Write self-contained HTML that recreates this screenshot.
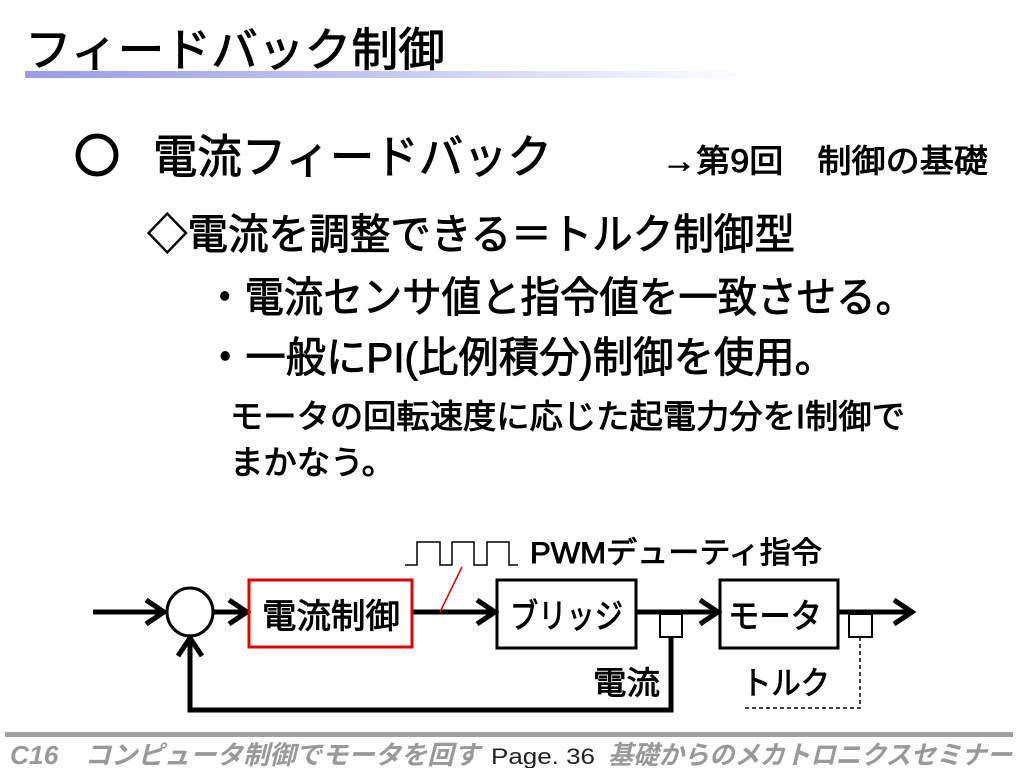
<!DOCTYPE html>
<html><head><meta charset="utf-8"><style>
html,body{margin:0;padding:0;background:#fff;}
svg{display:block;}
text{font-family:"Liberation Sans","Noto Sans CJK JP",sans-serif;}
.b{stroke:#000;stroke-width:0.9;}
</style></head><body>
<svg width="1024" height="768" viewBox="0 0 1024 768" xmlns="http://www.w3.org/2000/svg">
<defs>
<linearGradient id="g" x1="0" x2="1" y1="0" y2="0">
<stop offset="0" stop-color="#9a9ae8"/><stop offset="0.5" stop-color="#c8c8f2"/><stop offset="1" stop-color="#ffffff"/>
</linearGradient>
</defs>
<text class="b" x="25" y="66" font-size="46" textLength="420" lengthAdjust="spacingAndGlyphs">フィードバック制御</text>
<rect x="25" y="71" width="725" height="7" fill="url(#g)"/>

<circle cx="97" cy="155" r="19" fill="none" stroke="#000" stroke-width="5"/>
<text class="b" x="153" y="173" font-size="46" textLength="399" lengthAdjust="spacingAndGlyphs">電流フィードバック</text>
<text class="b" x="662" y="172" font-size="32" textLength="326" lengthAdjust="spacingAndGlyphs">→第9回　制御の基礎</text>
<text class="b" x="147" y="249" font-size="42" textLength="648" lengthAdjust="spacingAndGlyphs">◇電流を調整できる＝トルク制御型</text>
<text class="b" x="205" y="312" font-size="42" textLength="710" lengthAdjust="spacingAndGlyphs">・電流センサ値と指令値を一致させる。</text>
<text class="b" x="205" y="372" font-size="42" textLength="630" lengthAdjust="spacingAndGlyphs">・一般にPI(比例積分)制御を使用。</text>
<text class="b" x="230" y="428" font-size="33" textLength="675" lengthAdjust="spacingAndGlyphs">モータの回転速度に応じた起電力分をI制御で</text>
<text class="b" x="230" y="474" font-size="33" textLength="165" lengthAdjust="spacingAndGlyphs">まかなう。</text>

<!-- diagram -->
<g stroke="#000" stroke-width="5" fill="none" stroke-linejoin="miter">
<line x1="93" y1="612" x2="162" y2="612"/>
<polyline points="146,600 164,612 146,624"/>
<ellipse cx="190" cy="612" rx="23" ry="24" stroke-width="3"/>
<line x1="213" y1="612" x2="245" y2="612"/>
<polyline points="229,600 247,612 229,624"/>
<line x1="413" y1="612" x2="493" y2="612"/>
<polyline points="477,600 495,612 477,624"/>
<rect x="497" y="580" width="139" height="68" stroke-width="3"/>
<line x1="636" y1="612" x2="716" y2="612"/>
<polyline points="700,600 718,612 700,624"/>
<rect x="720" y="580" width="118" height="68" stroke-width="3"/>
<line x1="838" y1="612" x2="910" y2="612"/>
<polyline points="894,600 912,612 894,624"/>
<polyline points="671,637 671,710 190,710 190,640"/>
<polyline points="178,656 190,638 202,656"/>
</g>
<rect x="660" y="614" width="22" height="23" fill="#fff" stroke="#000" stroke-width="2"/>
<rect x="849" y="614" width="23" height="23" fill="#fff" stroke="#000" stroke-width="2"/>
<polyline points="860,637 860,708 745,708" fill="none" stroke="#000" stroke-width="1.5" stroke-dasharray="4,3"/>
<rect x="249" y="580" width="163" height="67" fill="none" stroke="#e00000" stroke-width="3"/>
<line x1="440" y1="612" x2="462" y2="567" stroke="#e00000" stroke-width="1.5"/>
<polyline points="405,565 417,565 417,542 440,542 440,565 452,565 452,542 474,542 474,565 487,565 487,542 509,542 509,565 518,565" fill="none" stroke="#000" stroke-width="1.5"/>
<text class="b" x="262" y="628" font-size="34" textLength="138" lengthAdjust="spacingAndGlyphs">電流制御</text>
<text class="b" x="510" y="628" font-size="34" textLength="113" lengthAdjust="spacingAndGlyphs">ブリッジ</text>
<text class="b" x="728" y="628" font-size="34" textLength="94" lengthAdjust="spacingAndGlyphs">モータ</text>
<text class="b" x="530" y="563" font-size="30" textLength="292" lengthAdjust="spacingAndGlyphs">PWMデューティ指令</text>
<text class="b" x="593" y="694" font-size="32" textLength="67" lengthAdjust="spacingAndGlyphs">電流</text>
<text class="b" x="742" y="694" font-size="32" textLength="88" lengthAdjust="spacingAndGlyphs">トルク</text>

<!-- footer -->
<rect x="5" y="732" width="1008" height="5" fill="#a0a0a0"/>
<text x="10" y="764" font-size="26" fill="#999" font-weight="bold" font-style="italic" textLength="470" lengthAdjust="spacingAndGlyphs">C16　コンピュータ制御でモータを回す</text>
<text x="491" y="764" font-size="22" fill="#222" textLength="104" lengthAdjust="spacingAndGlyphs">Page. 36</text>
<text x="608" y="764" font-size="26" fill="#999" font-weight="bold" font-style="italic" textLength="404" lengthAdjust="spacingAndGlyphs">基礎からのメカトロニクスセミナー</text>
</svg>
</body></html>
